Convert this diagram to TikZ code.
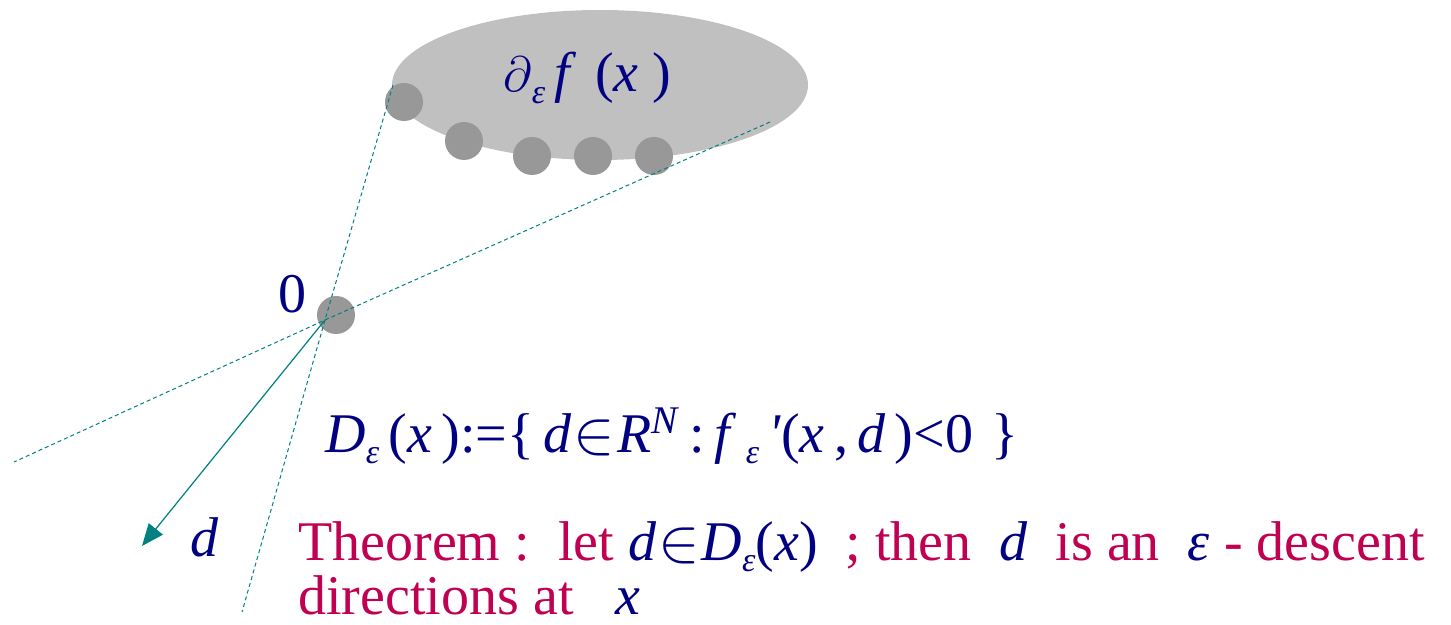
\documentclass[tikz,border=0pt]{standalone}
\usepackage{fontspec}
\setmainfont{Liberation Serif}
\usetikzlibrary{shapes.geometric, arrows.meta, positioning}
\definecolor{setgray}{RGB}{192,192,192}
\definecolor{dotgray}{RGB}{152,152,152}
\definecolor{rayteal}{RGB}{0,128,128}
\definecolor{mathnavy}{RGB}{0,0,128}
\definecolor{thmred}{RGB}{192,0,80}
\newcommand{\mi}[1]{\textit{#1}}
\newcommand{\lowsub}[1]{\raisebox{-0.45ex}{\fontsize{17}{17}\selectfont\textit{#1}}}
\newcommand{\bigin}{\kern1pt\raisebox{-0.05ex}{\scalebox{1.25}{$\in$}}\kern1pt}

\begin{document}
\begin{tikzpicture}[
    x=0.5pt, y=-0.5pt,
    big/.style={ellipse, fill=setgray, minimum width=208pt, minimum height=75pt, inner sep=0pt},
    dot/.style={circle, fill=dotgray, minimum size=19pt, inner sep=0pt},
    ray/.style={draw=rayteal, line width=0.5pt, dash pattern=on 2pt off 1.5pt},
    arrow/.style={-{Triangle[length=11pt, width=9pt]}, draw=rayteal, fill=rayteal, line width=0.6pt},
    mathtext/.style={text=mathnavy, inner sep=0pt, anchor=base west, font=\fontsize{28}{28}\selectfont},
    thmtext/.style={text=thmred, inner sep=0pt, anchor=base west, font=\fontsize{28}{28}\selectfont}
]
\useasboundingbox (0,0) rectangle (1451,625);

% the eps-subdifferential and its points
\node[big] (sub) at (600,85) {};
\node[mathtext] (sublabel) at (503,92) {$\partial$\lowsub{ε}\,\mi{f}\,\,(\mi{x}\,\kern2pt)};
\node[dot] (p1) at (404,102) {};
\node[dot] (p2) at (464,141) {};
\node[dot] (p3) at (532,156) {};
\node[dot] (p4) at (593,156) {};
\node[dot] (p5) at (654,156) {};

% origin
\node[dot] (origin) at (336,315) {};
\node[mathtext] (zero) at (278,313) {0};
\coordinate (o) at (325,320);

% cone boundaries
\coordinate (top1) at (393,85);
\coordinate (bot1) at (242,612);
\coordinate (top2) at (770,122);
\coordinate (bot2) at (14,462);
\draw[ray] (top1) -- (o) -- (bot1);
\draw[ray] (top2) -- (o) -- (bot2);

% direction
\coordinate (tip) at (142,546);
\draw[arrow] (o) -- (tip);
\node[mathtext] (dlabel) at (190,556) {\mi{d}};

% texts
\node[mathtext] (set) at (325,452) {\mi{D}\lowsub{ε}\,(\mi{x}\,):=\{\,\mi{d}\bigin\mi{R}\textsuperscript{\mi{N}}\,:\,\mi{f}\,\lowsub{ε}\,\mi{\textquotesingle}(\mi{x}\,,\,\mi{d}\,)<0\,\,\}};
\node[thmtext] (thm) at (298,560) {Theorem :\ \ let \textcolor{mathnavy}{\mi{d}\bigin\mi{D}\lowsub{ε}(\mi{x})}\ \ ; then\ \ \textcolor{mathnavy}{\mi{d}}\ \ is an\ \ \textcolor{mathnavy}{\mi{ε}}\ - descent};
\node[thmtext] (thm2) at ([yshift=-27pt]thm.base west) {directions at\ \ \ \textcolor{mathnavy}{\mi{x}}};

\end{tikzpicture}
\end{document}
